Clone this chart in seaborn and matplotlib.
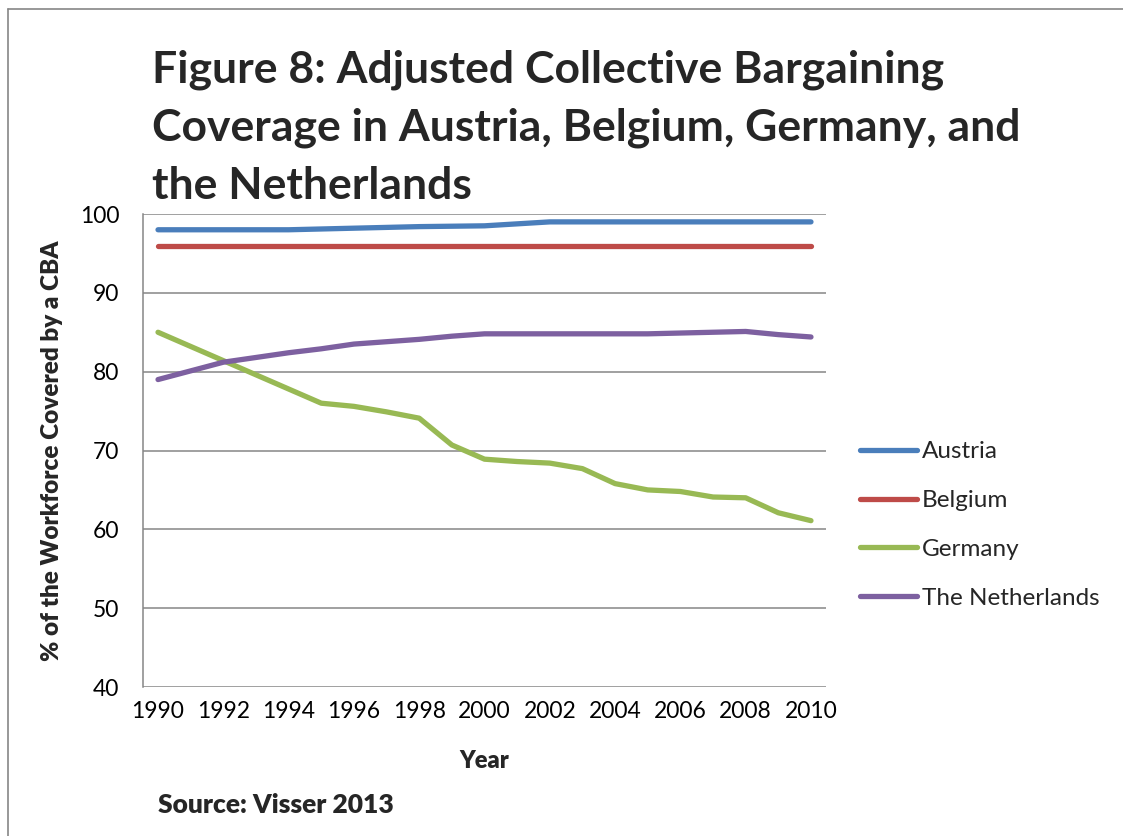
import matplotlib
matplotlib.use("Agg")
import matplotlib.pyplot as plt
import seaborn as sns
import pandas as pd
from matplotlib.lines import Line2D

years = list(range(1990, 2011))
austria = [98.0, 98.0, 98.0, 98.0, 98.0, 98.1, 98.2, 98.3, 98.4, 98.45, 98.5,
           98.75, 99.0, 99.0, 99.0, 99.0, 99.0, 99.0, 99.0, 99.0, 99.0]
belgium = [96.0] * 21
germany = [85.0, 83.2, 81.4, 79.6, 77.8, 76.0, 75.6, 74.9, 74.1, 70.7, 68.9,
           68.6, 68.4, 67.7, 65.8, 65.0, 64.8, 64.1, 64.0, 62.1, 61.1]
netherlands = [79.0, 80.1, 81.2, 81.8, 82.4, 82.9, 83.5, 83.8, 84.1, 84.5, 84.8,
               84.8, 84.8, 84.8, 84.8, 84.8, 84.9, 85.0, 85.1, 84.7, 84.4]
countries = ["Austria", "Belgium", "Germany", "The Netherlands"]
colors = ["#4A7EBB", "#BE4B48", "#98B954", "#7D60A0"]
y_ticks = [40, 50, 60, 70, 80, 90, 100]
x_ticks = list(range(1990, 2011, 2))

title_lines = ["Figure 8: Adjusted Collective Bargaining",
               "Coverage in Austria, Belgium, Germany, and",
               "the Netherlands"]

df = pd.DataFrame({
    "Year": years * 4,
    "Coverage": austria + belgium + germany + netherlands,
    "Country": sum([[c] * len(years) for c in countries], []),
})

sns.set_theme(style="white")
plt.rcParams["font.family"] = ["Lato", "DejaVu Sans"]

W, H = 1123, 836
fig = plt.figure(figsize=(W / 100, H / 100), dpi=100)
ax = fig.add_axes([143 / W, 1 - 687 / H, (826 - 143) / W, (687 - 214) / H])

sns.lineplot(data=df, x="Year", y="Coverage", hue="Country",
             palette=dict(zip(countries, colors)), linewidth=3.8,
             ax=ax, legend=False, solid_capstyle="round")

ax.set_xlim(1989.54, 2010.46)
ax.set_ylim(40, 100)
ax.set_yticks(y_ticks)
ax.set_xticks(x_ticks)
ax.set_yticklabels([str(v) for v in y_ticks], fontsize=16.5)
ax.set_xticklabels([str(v) for v in x_ticks], fontsize=16.5)
ax.tick_params(axis="y", length=0, pad=17, colors="black")
ax.tick_params(axis="x", length=0, pad=10, colors="black")
ax.yaxis.grid(True, color="#868686", linewidth=1.1)
ax.set_axisbelow(True)
for s in ["top", "right", "bottom"]:
    ax.spines[s].set_visible(False)
ax.spines["left"].set_color("#868686")
ax.spines["left"].set_linewidth(1.1)

ax.set_xlabel("Year", fontsize=17, fontweight="heavy", labelpad=20)
ax.set_ylabel("% of the Workforce Covered by a CBA", fontsize=17.5,
              fontweight="heavy", labelpad=12)

handles = [Line2D([0], [0], color=c, linewidth=3.8, solid_capstyle="round")
           for c in colors]
fig.legend(handles, countries, loc="center left",
           bbox_to_anchor=(860 / W, 1 - 525 / H), frameon=False,
           fontsize=17.5, handlelength=2.35, handletextpad=0.2,
           labelspacing=1.15, borderpad=0, borderaxespad=0)

for line, base in zip(title_lines, [83, 141, 199]):
    fig.text(152 / W, 1 - base / H, line, fontsize=32, fontweight="bold",
             va="baseline", ha="left")

fig.text(158 / W, 1 - 805 / H, "Source: Visser 2013", fontsize=19,
         fontweight="heavy", va="center", ha="left")

# outer border (top and left visible)
fig.add_artist(Line2D([8 / W, 8 / W], [0, 1 - 9 / H], transform=fig.transFigure,
                      color="#868686", linewidth=1.2))
fig.add_artist(Line2D([8 / W, 1], [1 - 9 / H, 1 - 9 / H], transform=fig.transFigure,
                      color="#868686", linewidth=1.2))

fig.savefig("out.png", dpi=100)
